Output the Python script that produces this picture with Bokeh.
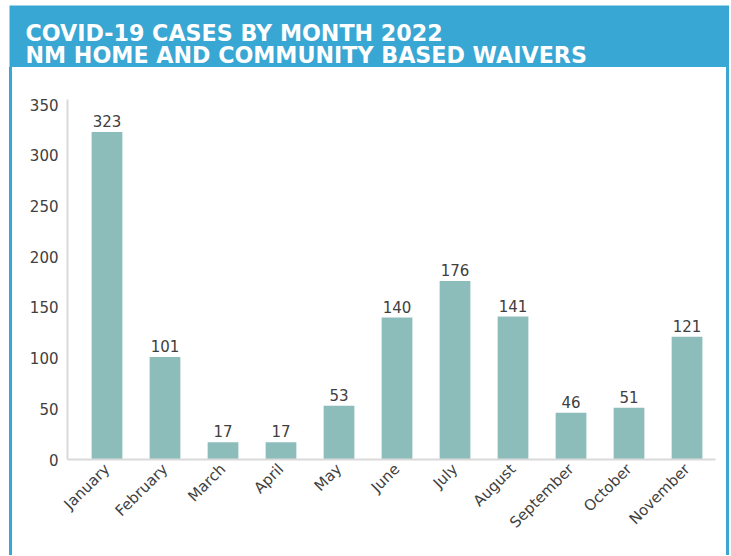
import math
from bokeh.plotting import figure
from bokeh.layouts import column, row
from bokeh.models import Range1d, FixedTicker, Spacer
from bokeh.core.properties import value
from bokeh.embed import file_html
from bokeh.resources import INLINE

# ---- data ----
months = ["January", "February", "March", "April", "May", "June", "July",
          "August", "September", "October", "November"]
cases = [323, 101, 17, 17, 53, 140, 176, 141, 46, 51, 121]
y_ticks = [0, 50, 100, 150, 200, 250, 300, 350]
title_lines = ["COVID-19 CASES BY MONTH 2022", "NM HOME AND COMMUNITY BASED WAIVERS"]

BLUE = "#39a7d4"
BAR = "#8dbdbb"
AXIS = "#d9d9d9"
TXT = "#404040"
FONT = "DejaVu Sans"

# ---- header ----
h = figure(width=720, height=62, x_range=Range1d(0, 720), y_range=Range1d(62, 0),
           output_backend="svg", toolbar_location=None, min_border=0)
h.axis.visible = False
h.grid.visible = False
h.outline_line_color = None
h.background_fill_color = BLUE
h.border_fill_color = BLUE
h.text(x=[16, 16], y=[27, 49], text=title_lines, text_color="white",
       text_font=value(FONT), text_font_style="bold", text_font_size="22.2px",
       text_baseline="alphabetic", text_align="left")

# ---- main chart ----
idx = list(range(len(months)))
p = figure(width=714, height=488, x_range=Range1d(-0.681, 10.491), y_range=Range1d(0, 355),
           output_backend="svg", toolbar_location=None,
           min_border_left=55, min_border_right=11, min_border_top=32, min_border_bottom=96)
p.background_fill_color = "white"
p.border_fill_color = "white"
p.outline_line_color = None
p.grid.visible = False

p.vbar(x=idx, top=cases, width=0.53, fill_color=BAR, line_color=None)
p.text(x=idx, y=cases, text=[str(v) for v in cases], text_align="center",
       text_baseline="bottom", y_offset=-5, text_font=value(FONT),
       text_font_size="15px", text_color=TXT)

xa = p.xaxis[0]
xa.ticker = FixedTicker(ticks=idx)
xa.major_label_overrides = {i: m for i, m in enumerate(months)}
xa.major_label_orientation = math.pi / 4
xa.major_tick_line_color = None
xa.minor_tick_line_color = None
xa.major_tick_out = 0
xa.major_label_standoff = 7
xa.axis_line_color = AXIS
xa.axis_line_width = 2
xa.major_label_text_font = FONT
xa.major_label_text_font_size = "15px"
xa.major_label_text_color = TXT

ya = p.yaxis[0]
ya.ticker = FixedTicker(ticks=y_ticks)
ya.major_tick_line_color = None
ya.minor_tick_line_color = None
ya.major_tick_out = 0
ya.major_label_standoff = 9
ya.axis_line_color = AXIS
ya.axis_line_width = 2
ya.major_label_text_font = FONT
ya.major_label_text_font_size = "15px"
ya.major_label_text_color = TXT

left = Spacer(width=3, height=488, styles={"background-color": BLUE})
right = Spacer(width=3, height=488, styles={"background-color": BLUE})

layout = column(h, row(left, p, right), margin=(5, 0, 0, 9))

open("out.html", "w").write(file_html(layout, INLINE))
